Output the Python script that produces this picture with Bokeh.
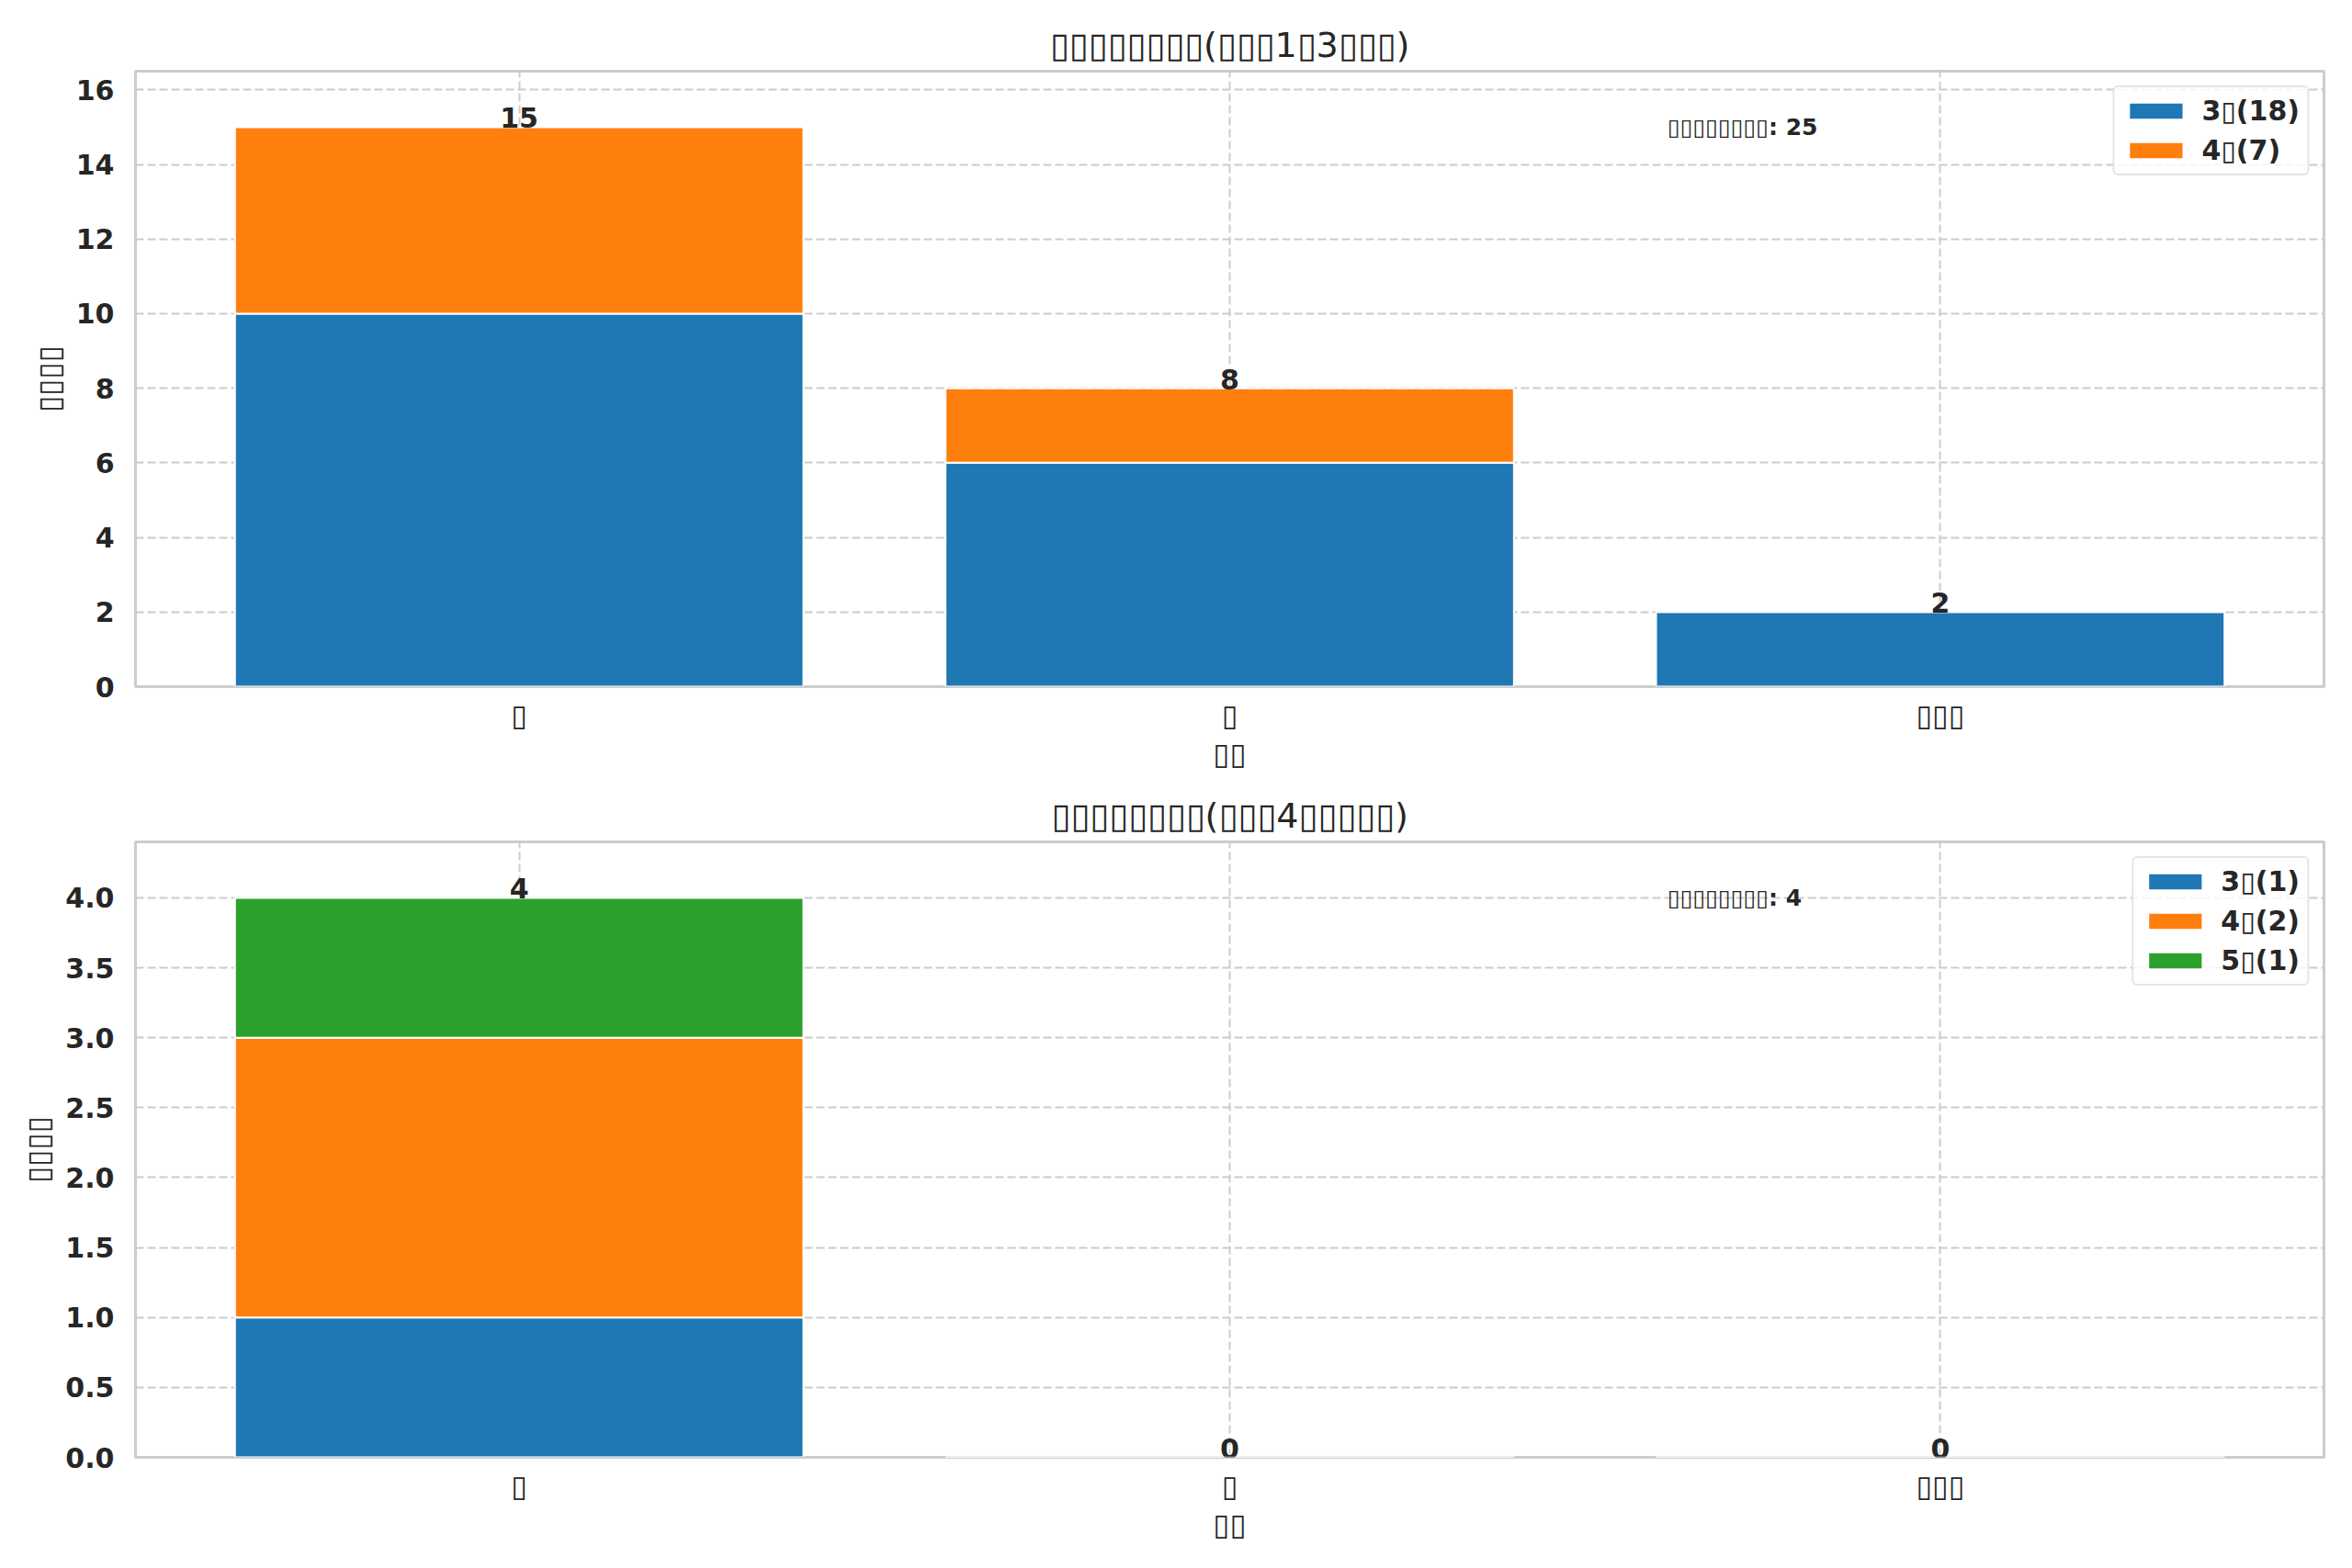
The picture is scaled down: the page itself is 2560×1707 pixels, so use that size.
from bokeh.plotting import figure
from bokeh.layouts import column
from bokeh.models import (ColumnDataSource, FixedTicker, Label, PrintfTickFormatter, Range1d,
                          BoxAnnotation)
from bokeh.embed import file_html
from bokeh.resources import INLINE
from bokeh.core.properties import value

# Missing-glyph boxes as they appear in the reference
T = "\u25af"

categories = [T, T, T * 3]
x_label = T * 2
y_label = T * 4

title_top = T * 8 + "(" + T * 3 + "1" + T + "3" + T * 3 + ")"
title_bottom = T * 8 + "(" + T * 3 + "4" + T * 5 + ")"

levels_top = ["3", "4"]
top_score3 = [10, 6, 2]
top_score4 = [5, 2, 0]

levels_bottom = ["3", "4", "5"]
bottom_score3 = [1, 0, 0]
bottom_score4 = [2, 0, 0]
bottom_score5 = [1, 0, 0]

annot_prefix = T * 8

COLORS = ["#1f77b4", "#ff7f0e", "#2ca02c"]
TXT = "#262626"
FONT = "DejaVu Sans"


def panel(title, levels, series, height, b_top, b_bottom, yticks, yfmt):
    xs = list(range(len(categories)))
    totals = [sum(v) for v in zip(*series)]
    ymax = max(totals) * 1.1
    x0, x1 = -0.4 - 0.14, len(categories) - 1 + 0.4 + 0.14
    p = figure(width=2552, height=height, output_backend="svg", toolbar_location=None,
               x_range=Range1d(x0, x1), y_range=Range1d(0, ymax),
               min_border_left=147, min_border_right=23,
               min_border_top=b_top, min_border_bottom=b_bottom)
    data = {"x": xs}
    names = []
    for lv, s in zip(levels, series):
        data["s" + lv] = s
        names.append("s" + lv)
    src = ColumnDataSource(data)
    labels = [f"{lv}{T}({sum(s)})" for lv, s in zip(levels, series)]
    p.vbar_stack(names, x="x", width=0.8, source=src, color=COLORS[:len(levels)],
                 line_color="white", line_width=2, legend_label=labels)
    p.text(x=xs, y=totals, text=[str(t) for t in totals], text_align="center",
           text_baseline="bottom", y_offset=1, text_font=value(FONT),
           text_font_style="bold", text_font_size="30px", text_color=TXT)
    p.add_layout(Label(x=x0 + 0.7 * (x1 - x0), y=max(totals),
                       text=f"{annot_prefix}: {sum(totals)}", text_align="left",
                       text_baseline="middle", text_font=FONT, text_font_style="bold",
                       text_font_size="25px", text_color=TXT))
    # frame drawn above the bars, like matplotlib spines
    p.add_layout(BoxAnnotation(fill_alpha=0, line_color="#cccccc", line_width=3,
                               level="overlay"))

    p.title.text = title
    p.title.align = "center"
    p.title.text_font = FONT
    p.title.text_font_style = "normal"
    p.title.text_font_size = "38px"
    p.title.text_color = TXT
    p.title.standoff = 13

    p.outline_line_color = "#cccccc"
    p.outline_line_width = 3
    for g in (p.xgrid, p.ygrid):
        g.grid_line_color = "#cccccc"
        g.grid_line_width = 2
        g.grid_line_dash = "9 4"

    p.xaxis.ticker = FixedTicker(ticks=xs)
    p.xaxis.major_label_overrides = {i: c for i, c in zip(xs, categories)}
    p.yaxis.ticker = FixedTicker(ticks=yticks)
    p.yaxis.formatter = PrintfTickFormatter(format=yfmt)
    p.xaxis.axis_label = x_label
    p.yaxis.axis_label = y_label
    for ax in (p.xaxis, p.yaxis):
        ax.axis_line_color = None
        ax.major_tick_line_color = None
        ax.minor_tick_line_color = None
        ax.major_label_text_font = FONT
        ax.major_label_text_color = TXT
        ax.axis_label_text_font = FONT
        ax.axis_label_text_font_size = "33px"
        ax.axis_label_text_font_style = "normal"
        ax.axis_label_text_color = TXT
    p.yaxis.major_label_text_font_style = "bold"
    p.yaxis.major_label_text_font_size = "30px"
    p.yaxis.major_label_standoff = 17
    p.yaxis.axis_label_standoff = 7
    p.xaxis.major_label_text_font_style = "normal"
    p.xaxis.major_label_text_font_size = "32px"
    p.xaxis.major_label_standoff = 6
    p.xaxis.axis_label_standoff = 0

    lg = p.legend[0]
    lg.location = "top_right"
    lg.margin = 16
    lg.padding = 8
    lg.spacing = 8
    lg.label_standoff = 13
    lg.glyph_width = 74
    lg.glyph_height = 23
    lg.label_height = 26
    lg.label_text_font = FONT
    lg.label_text_font_style = "bold"
    lg.label_text_font_size = "30px"
    lg.label_text_color = TXT
    lg.border_line_color = "#cccccc"
    lg.border_line_width = 2
    lg.border_radius = 6
    lg.background_fill_alpha = 0.8
    return p


p1 = panel(title_top, levels_top, [top_score3, top_score4], 850, 77, 103,
           list(range(0, 17, 2)), "%d")
p2 = panel(title_bottom, levels_bottom, [bottom_score3, bottom_score4, bottom_score5],
           849, 66, 113, [i * 0.5 for i in range(9)], "%.1f")

layout = column(p1, p2)
open("out.html", "w").write(file_html(layout, INLINE))
